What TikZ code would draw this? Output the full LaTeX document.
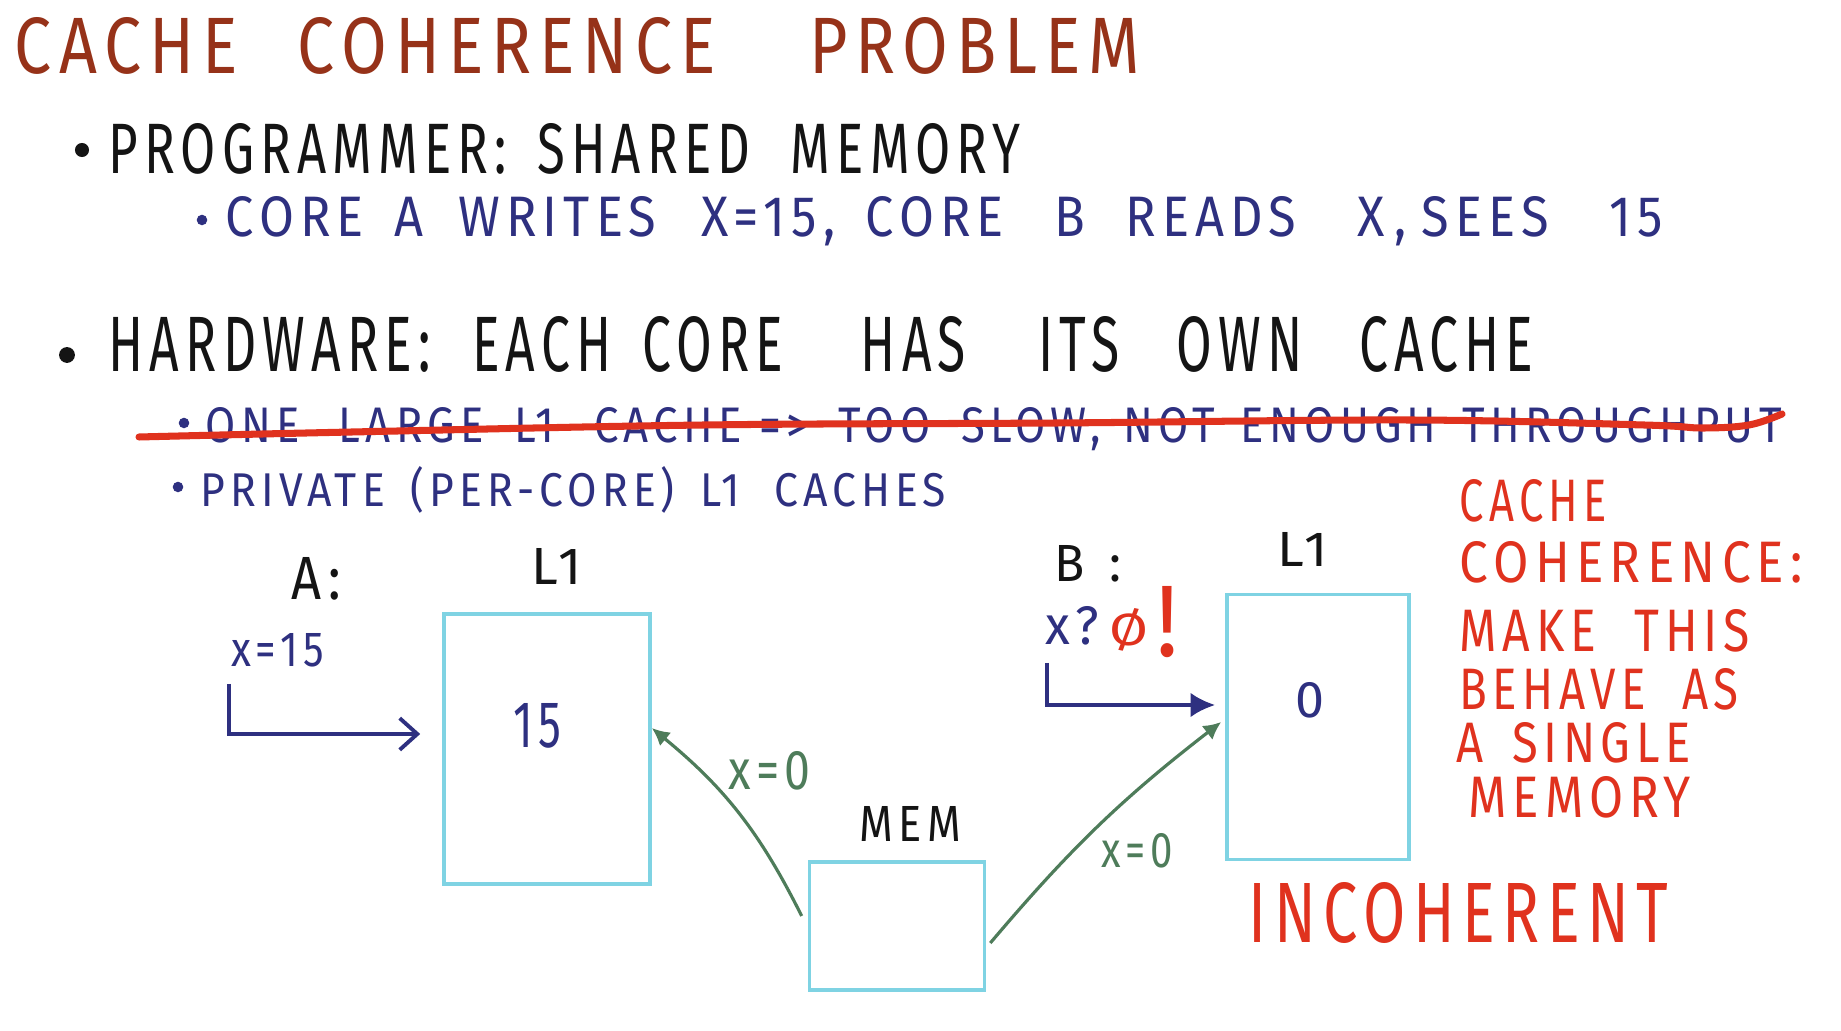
\documentclass[tikz,border=0pt]{standalone}
\usepackage{fontspec}
\setmainfont{Fira Sans}[LetterSpace=12]
\usepackage{graphicx}
\usetikzlibrary{arrows.meta,calc}
\definecolor{titlec}{HTML}{963219}
\definecolor{inkc}{HTML}{141414}
\definecolor{bluec}{HTML}{2E3080}
\definecolor{redc}{HTML}{E0321E}
\definecolor{cyanc}{HTML}{7FD3E3}
\definecolor{greenc}{HTML}{4E7C5A}
\newcommand\fitbox[3]{\resizebox{#1cm}{#2cm}{#3}}
\begin{document}
\begin{tikzpicture}[x=0.01cm,y=-0.01cm,
  txt/.style={inner sep=0pt, anchor=base west},
  cbox/.style={draw=cyanc, line width=1pt, inner sep=0pt},
  garrow/.style={draw=greenc, line width=0.9pt, -{Latex[length=5pt,width=5pt]}},
  barrowA/.style={draw=bluec, line width=1.1pt, -{Straight Barb[length=5pt,width=9pt]}},
  barrowB/.style={draw=bluec, line width=1.1pt, -{Latex[length=7pt,width=7pt]}},
  strikeline/.style={draw=redc, line width=2pt, line cap=round},
  dotb/.style={circle, inner sep=0pt, minimum size=#1}]
\useasboundingbox (0,0) rectangle (1841,1031);
\fill[white] (0,0) rectangle (1841,1031);

% title
\node[txt,titlec] (title) at (14,74) {\fitbox{11.25}{0.56}{CACHE\hspace{0.9em}COHERENCE\hspace{1.4em}PROBLEM}};

% bullets
\node[dotb=4pt, fill=inkc] (d1) at (82,150) {};
\node[dotb=3pt, fill=bluec] (d2) at (202,220) {};
\node[dotb=4.5pt, fill=inkc] (d3) at (67,355) {};
\node[dotb=3pt, fill=bluec] (d4) at (184,423) {};
\node[dotb=3pt, fill=bluec] (d5) at (178,487) {};

% lines of text
\node[txt,inkc] (prog) at (108,174) {\fitbox{9.11}{0.50}{PROGRAMMER:\hspace{0.6em}SHARED\hspace{0.8em}MEMORY}};
\node[txt,bluec] (core) at (225,237) {\fitbox{14.36}{0.40}{CORE\hspace{0.6em}A\hspace{0.7em}WRITES\hspace{0.9em}X=15,\hspace{0.6em}CORE\hspace{1em}B\hspace{0.8em}READS\hspace{1.2em}X\hspace{0.2em},\hspace{0.3em}SEES\hspace{1.2em}15}};
\node[txt,inkc] (hw) at (108,372) {\fitbox{14.24}{0.55}{HARDWARE:\hspace{0.8em}EACH\hspace{0.6em}CORE\hspace{1.5em}HAS\hspace{1.4em}ITS\hspace{1.1em}OWN\hspace{1.1em}CACHE}};
\node[txt,bluec] (one) at (205,443) {\fitbox{15.75}{0.35}{ONE\hspace{0.9em}LARGE\hspace{0.7em}L1\hspace{0.9em}CACHE\hspace{0.4em}=>\hspace{0.7em}TOO\hspace{0.7em}SLOW,\hspace{0.5em}NOT\hspace{0.6em}ENOUGH\hspace{0.6em}THROUGHPUT}};
\node[txt,bluec] (priv) at (200,507) {\fitbox{7.45}{0.40}{PRIVATE\hspace{0.6em}(PER-CORE)\hspace{0.6em}L1\hspace{0.8em}CACHES}};

% strike-through
\draw[strikeline] plot[smooth, tension=0.6] coordinates {(139,437) (352,432) (704,425) (1057,423) (1409,420) (1644,425) (1702,428) (1749,425) (1782,414)};

% right-hand notes
\node[txt,redc] (r1) at (1459,522) {\fitbox{1.47}{0.42}{CACHE}};
\node[txt,redc] (r2) at (1459,583) {\fitbox{3.43}{0.41}{COHERENCE:}};
\node[txt,redc] (r3) at (1459,652) {\fitbox{2.90}{0.42}{MAKE\hspace{0.8em}THIS}};
\node[txt,redc] (r4) at (1459,710) {\fitbox{2.79}{0.41}{BEHAVE\hspace{0.8em}AS}};
\node[txt,redc] (r5) at (1456,763) {\fitbox{2.34}{0.40}{A\hspace{0.6em}SINGLE}};
\node[txt,redc] (r6) at (1468,818) {\fitbox{2.22}{0.41}{MEMORY}};
\node[txt,redc] (inc) at (1248,943) {\fitbox{4.19}{0.60}{INCOHERENT}};

% boxes
\node[cbox, minimum width=2.06cm, minimum height=2.70cm] (L) at (547,749) {};
\node[cbox, minimum width=1.82cm, minimum height=2.65cm] (R) at (1318,727) {};
\node[cbox, minimum width=1.75cm, minimum height=1.28cm] (M) at (897,926) {};

% diagram labels
\node[txt,inkc] (Alab) at (291,600) {\fitbox{0.49}{0.42}{A:}};
\node[txt,inkc] (L1a) at (531,585) {\fitbox{0.50}{0.36}{L1}};
\node[txt,inkc] (L1b) at (1277,567) {\fitbox{0.50}{0.34}{L1}};
\node[txt,inkc] (Blab) at (1054,582) {\fitbox{0.67}{0.36}{B\hspace{0.5em}:}};
\node[txt,inkc] (mem) at (859,842) {\fitbox{1.01}{0.35}{MEM}};
\node[txt,bluec] (v15) at (513,748) {\fitbox{0.48}{0.44}{15}};
\node[txt,bluec] (v0) at (1295,718) {\fitbox{0.29}{0.35}{0}};
\node[txt,bluec] (xa) at (231,667) {\fitbox{0.92}{0.33}{x=15}};
\node[txt,bluec] (xb) at (1045,645) {\fitbox{0.53}{0.38}{x?}};
\node[txt,redc] (zero) at (1109,646) {\fitbox{0.39}{0.37}{Ø}};
\node[txt,redc] (bang) at (1156,657) {\fitbox{0.22}{0.70}{!}};
\node[txt,greenc] (g1) at (728,790) {\fitbox{0.82}{0.38}{x=0}};
\node[txt,greenc] (g2) at (1101,868) {\fitbox{0.71}{0.34}{x=0}};

% connectors
\coordinate (a0) at (229,684);
\draw[barrowA] (a0) |- ($(L.west)+(-22,-15)$);
\coordinate (b0) at (1047,663);
\draw[barrowB] (b0) |- ($(R.west)+(-10,-22)$);
\draw[garrow] ($(M.west)+(-6,-10)$) to[bend right=12] ($(L.east)+(0,-21)$);
\draw[garrow] ($(M.east)+(4,17)$) to[bend left=6] ($(R.west)+(-4,-5)$);
\end{tikzpicture}
\end{document}
